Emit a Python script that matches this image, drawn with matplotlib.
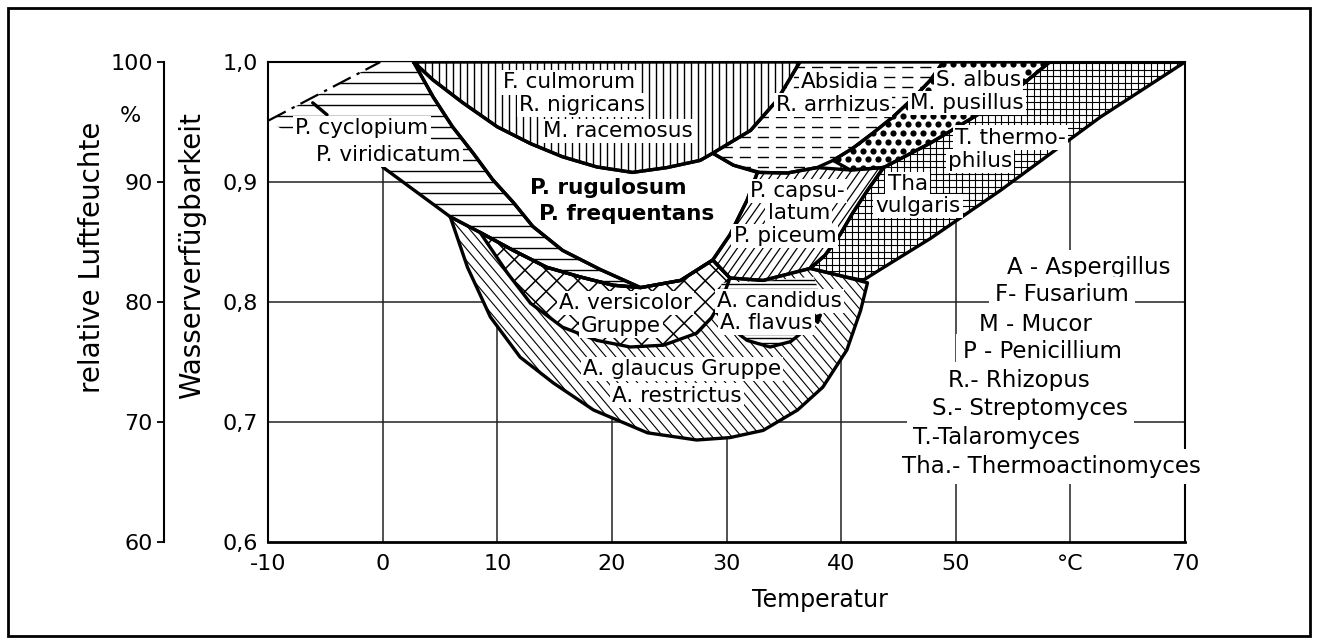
import matplotlib.pyplot as plt
import numpy as np
from matplotlib.collections import LineCollection
from matplotlib.patches import Polygon, Rectangle

# region outlines: temperature (°C) and water activity (aw)
cyclopium_T = [-10, -0.2, 2.7, 4.4, 6.1, 7.9, 9.6, 11.4, 13.1, 15.7, 19.0, 22.5,
               20.1, 17.2, 14.3, 11.4, 8.5, 5.9, 0.0, -7.2]
cyclopium_aw = [0.951, 1.0, 1.0, 0.971, 0.946, 0.924, 0.902, 0.883, 0.863, 0.843, 0.827, 0.812,
                0.814, 0.821, 0.829, 0.843, 0.858, 0.871, 0.9125, 0.935]
cyclopium_tick_T = [-6.1, -4.85]
cyclopium_tick_aw = [0.966, 0.956]

culmorum_T = [2.7, 36.4, 34.4, 32.1, 28.8, 27.7, 24.8, 21.8, 18.7, 15.7, 12.9, 10.0, 7.0, 4.4]
culmorum_aw = [1.0, 1.0, 0.968, 0.943, 0.924, 0.918, 0.912, 0.908, 0.9125, 0.921, 0.932, 0.946, 0.966, 0.985]

rugulosum_T = [2.7, 4.4, 7.0, 10.0, 12.9, 15.7, 18.7, 21.8, 24.8, 27.7, 28.8, 30.6, 32.7, 31.8,
               30.3, 28.8, 26.0, 22.5, 19.0, 15.7, 13.1, 11.4, 9.6, 7.9, 6.1, 4.4]
rugulosum_aw = [1.0, 0.985, 0.966, 0.946, 0.932, 0.921, 0.9125, 0.908, 0.912, 0.918, 0.924, 0.914, 0.908, 0.885,
                0.856, 0.835, 0.818, 0.812, 0.827, 0.843, 0.863, 0.883, 0.902, 0.924, 0.946, 0.971]

absidia_T = [36.4, 48.9, 47.8, 46.3, 44.5, 42.8, 41.0, 39.3, 37.9, 35.3, 32.9, 30.6, 28.8, 32.1, 34.4]
absidia_aw = [1.0, 1.0, 0.985, 0.970, 0.954, 0.941, 0.928, 0.918, 0.912, 0.9075, 0.908, 0.914, 0.924, 0.943, 0.968]

albus_T = [48.9, 58.2, 55.4, 51.9, 47.8, 43.7, 40.8, 39.3, 41.0, 42.8, 44.5, 46.3, 47.8]
albus_aw = [1.0, 1.0, 0.978, 0.956, 0.9325, 0.912, 0.910, 0.918, 0.928, 0.941, 0.954, 0.970, 0.985]

thermo_T = [58.2, 70, 62.6, 53.9, 47.8, 43.4, 41.9, 39.9, 37.3, 38.6, 39.9, 41.0, 42.3, 43.7, 47.8, 51.9, 55.4]
thermo_aw = [1.0, 1.0, 0.954, 0.893, 0.853, 0.827, 0.818, 0.822, 0.828, 0.839, 0.856, 0.874, 0.893, 0.912,
             0.9325, 0.956, 0.978]

capsulatum_T = [32.7, 35.3, 37.9, 40.8, 43.7, 42.3, 41.0, 39.9, 38.6, 37.3, 33.2, 30.3, 28.8, 30.3, 31.8]
capsulatum_aw = [0.908, 0.9075, 0.912, 0.910, 0.912, 0.893, 0.874, 0.856, 0.839, 0.828, 0.818, 0.820,
                 0.835, 0.856, 0.885]

glaucus_T = [5.9, 8.5, 11.4, 14.3, 17.2, 20.1, 22.5, 26.0, 28.8, 30.3, 33.2, 37.3, 39.9, 42.3,
             41.7, 40.5, 38.4, 36.2, 33.2, 30.3, 27.4, 23.1, 18.4, 14.9, 12.0, 9.4, 7.4]
glaucus_aw = [0.871, 0.858, 0.843, 0.829, 0.821, 0.814, 0.812, 0.818, 0.835, 0.820, 0.818, 0.828, 0.822, 0.816,
              0.793, 0.76, 0.729, 0.71, 0.693, 0.687, 0.685, 0.691, 0.71, 0.7325, 0.754, 0.7875, 0.829]

versicolor_T = [8.5, 11.4, 14.3, 17.2, 20.1, 22.5, 26.0, 28.8, 30.3, 29.6, 28.7, 27.4, 24.5, 21.6,
                18.7, 15.7, 12.9, 10.9]
versicolor_aw = [0.858, 0.843, 0.829, 0.821, 0.814, 0.812, 0.818, 0.835, 0.820, 0.802, 0.787, 0.774, 0.764,
                 0.7625, 0.768, 0.779, 0.799, 0.824]

candidus_T = [29.6, 33.2, 37.6, 38.2, 37.7, 36.9, 35.6, 33.8, 31.8, 30.3, 29.1, 29.3]
candidus_aw = [0.816, 0.8175, 0.821, 0.806, 0.789, 0.777, 0.767, 0.7625, 0.768, 0.779, 0.792, 0.806]
candidus_arrow = (38.4, 0.791)

x_ticks = [-10, 0, 10, 20, 30, 40, 50, 60, 70]
x_labels = ["-10", "0", "10", "20", "30", "40", "50", "°C", "70"]
y_ticks = [0.6, 0.7, 0.8, 0.9, 1.0]
y_labels = ["0,6", "0,7", "0,8", "0,9", "1,0"]
rh_ticks = [60, 70, 80, 90, 100]

region_labels = [
    ("P. cyclopium", -1.8, 0.945, "normal"),
    ("P. viridicatum", 0.5, 0.9225, "normal"),
    ("F. culmorum", 16.3, 0.983, "normal"),
    ("R. nigricans", 17.4, 0.964, "normal"),
    ("M. racemosus", 20.5, 0.9425, "normal"),
    ("P. rugulosum", 19.7, 0.895, "bold"),
    ("P. frequentans", 21.3, 0.873, "bold"),
    ("Absidia", 39.9, 0.983, "normal"),
    ("R. arrhizus", 39.3, 0.964, "normal"),
    ("S. albus", 52.0, 0.985, "normal"),
    ("M. pusillus", 51.0, 0.966, "normal"),
    ("T. thermo-", 54.8, 0.937, "normal"),
    ("philus", 52.1, 0.9175, "normal"),
    ("Tha", 45.8, 0.898, "normal"),
    ("vulgaris", 46.7, 0.880, "normal"),
    ("P. capsu-", 36.2, 0.8925, "normal"),
    ("latum", 36.3, 0.874, "normal"),
    ("P. piceum", 35.1, 0.855, "normal"),
    ("A. versicolor", 21.2, 0.799, "normal"),
    ("Gruppe", 20.8, 0.780, "normal"),
    ("A. glaucus Gruppe", 26.1, 0.744, "normal"),
    ("A. restrictus", 25.7, 0.722, "normal"),
    ("A. candidus", 34.6, 0.801, "normal"),
    ("A. flavus", 33.5, 0.7825, "normal"),
]

key_lines = [
    ("A - Aspergillus", 54.5, 0.829),
    ("F- Fusarium", 53.4, 0.806),
    ("M - Mucor", 52.0, 0.781),
    ("P - Penicillium", 50.6, 0.759),
    ("R.- Rhizopus", 49.3, 0.735),
    ("S.- Streptomyces", 47.9, 0.711),
    ("T.-Talaromyces", 46.3, 0.687),
    ("Tha.- Thermoactinomyces", 45.3, 0.663),
]

W, H = 1318, 643
AX_L, AX_R, AX_T, AX_B = 268, 1185, 62, 542
AX_W, AX_H = AX_R - AX_L, AX_B - AX_T

fig = plt.figure(figsize=(W / 100, H / 100), dpi=100)
ax = fig.add_axes([AX_L / W, 1 - AX_B / H, AX_W / W, AX_H / H])
ax.set_xlim(-10, 70)
ax.set_ylim(0.6, 1.0)
ax.autoscale(False)


def region(T, aw, z):
    patch = Polygon(np.column_stack([T, aw]), closed=True, facecolor="white",
                    edgecolor="none", zorder=z)
    ax.add_patch(patch)
    return patch


def hatch_lines(patch, angle, step, lw, z, **kw):
    # parallel lines, angle and spacing given in screen pixels
    th = np.deg2rad(angle)
    d = np.array([np.cos(th), np.sin(th)])
    nrm = np.array([-d[1], d[0]])
    half = np.hypot(AX_W, AX_H)
    centre = np.array([AX_W, AX_H]) / 2
    segs = []
    for off in np.arange(-half, half, step):
        c = centre + nrm * off
        a, b = c - d * half, c + d * half
        segs.append([(a[0] / AX_W, a[1] / AX_H), (b[0] / AX_W, b[1] / AX_H)])
    lc = LineCollection(segs, colors="black", linewidths=lw, transform=ax.transAxes,
                        zorder=z, **kw)
    lc.set_clip_path(patch)
    ax.add_collection(lc, autolim=False)


def hatch_dots(patch, step, size, z):
    pts = []
    for j, y in enumerate(np.arange(0, AX_H, step * 0.87)):
        for x in np.arange((j % 2) * step / 2, AX_W, step):
            pts.append((x / AX_W, y / AX_H))
    pts = np.array(pts)
    sc = ax.scatter(pts[:, 0], pts[:, 1], s=size, c="black", linewidths=0,
                    transform=ax.transAxes, zorder=z)
    sc.set_clip_path(patch)


def outline(T, aw, closed=True, lw=2.4):
    T, aw = list(T), list(aw)
    if closed:
        T, aw = T + T[:1], aw + aw[:1]
    ax.plot(T, aw, color="black", lw=lw, zorder=10, solid_joinstyle="round",
            solid_capstyle="round")


# grid behind everything
ax.vlines(range(0, 70, 10), 0.6, 1.0, color="#222222", lw=1.1, zorder=1)
ax.hlines([0.7, 0.8, 0.9], -10, 70, color="#222222", lw=1.1, zorder=1)

p = region(glaucus_T, glaucus_aw, 2.0)
hatch_lines(p, -50, 7.5, 0.8, 2.05)
p = region(versicolor_T, versicolor_aw, 2.1)
hatch_lines(p, 45, 15, 1.1, 2.15)
hatch_lines(p, -45, 15, 1.1, 2.15)
p = region(candidus_T, candidus_aw, 2.2)
hatch_lines(p, 0, 4.5, 1.0, 2.25)
p = region(capsulatum_T, capsulatum_aw, 2.3)
hatch_lines(p, 55, 7, 0.9, 2.35)
p = region(thermo_T, thermo_aw, 2.4)
hatch_lines(p, 0, 6.5, 0.8, 2.45)
hatch_lines(p, 90, 6.5, 0.8, 2.45)
region(rugulosum_T, rugulosum_aw, 2.5)
p = region(cyclopium_T, cyclopium_aw, 2.6)
hatch_lines(p, 0, 11, 1.0, 2.65)
p = region(culmorum_T, culmorum_aw, 2.7)
hatch_lines(p, 90, 7, 1.0, 2.75)
p = region(absidia_T, absidia_aw, 2.8)
hatch_lines(p, 0, 10, 1.0, 2.85, linestyles=[(0, (8, 5))])
p = region(albus_T, albus_aw, 2.9)
hatch_dots(p, 10, 20, 2.95)

# boundaries
for T, aw in [(glaucus_T, glaucus_aw), (versicolor_T, versicolor_aw),
              (capsulatum_T, capsulatum_aw), (thermo_T, thermo_aw),
              (rugulosum_T, rugulosum_aw), (culmorum_T, culmorum_aw),
              (absidia_T, absidia_aw), (albus_T, albus_aw)]:
    outline(T, aw)
outline(cyclopium_T[2:19], cyclopium_aw[2:19], closed=False)
outline(cyclopium_tick_T, cyclopium_tick_aw, closed=False)
ax.plot(cyclopium_T[:2], cyclopium_aw[:2], color="black", lw=1.6, zorder=10,
        linestyle=(0, (9, 3, 1.5, 3)))
outline(candidus_T[5:11], candidus_aw[5:11], closed=False)
ax.annotate("", xy=candidus_arrow, xytext=(candidus_T[5], candidus_aw[5]), zorder=10,
            arrowprops=dict(arrowstyle="-|>,head_length=0.5,head_width=0.25",
                            color="black", lw=2.2, shrinkA=0, shrinkB=0))

for text, t, a, weight in region_labels:
    ax.text(t, a, text, ha="center", va="center", fontsize=15.5, fontweight=weight,
            zorder=20, bbox=dict(facecolor="white", edgecolor="none", pad=1.5))

for text, t, a in key_lines:
    ax.text(t, a, text, ha="left", va="center", fontsize=16.5, zorder=20, clip_on=False,
            bbox=dict(facecolor="white", edgecolor="none", pad=4.5))

ax.set_xticks(x_ticks)
ax.set_xticklabels(x_labels)
ax.set_yticks(y_ticks)
ax.set_yticklabels(y_labels)
ax.tick_params(axis="x", length=0, pad=9, labelsize=16)
ax.tick_params(axis="y", length=0, pad=7, labelsize=16)
for s in ax.spines.values():
    s.set_linewidth(1.5)
ax.spines["bottom"].set_linewidth(2.0)

# relative humidity scale on the far left
ax2 = fig.add_axes([164 / W, 1 - AX_B / H, 0.0001, AX_H / H])
ax2.set_ylim(60, 100)
ax2.set_yticks(rh_ticks)
ax2.set_xticks([])
ax2.tick_params(axis="y", length=5, width=1.3, pad=3, labelsize=16)
for s in ["top", "right", "bottom"]:
    ax2.spines[s].set_visible(False)
ax2.spines["left"].set_linewidth(1.5)
ax2.patch.set_visible(False)

fig.text(130 / W, 1 - 116 / H, "%", ha="center", va="center", fontsize=16)
fig.text(92 / W, 1 - 257 / H, "relative Luftfeuchte", rotation=90, ha="center",
         va="center", fontsize=20)
fig.text(192 / W, 1 - 256 / H, "Wasserverfügbarkeit", rotation=90, ha="center",
         va="center", fontsize=20)
fig.text(820 / W, 1 - 600 / H, "Temperatur", ha="center", va="center", fontsize=17)

fig.patches.append(Rectangle((8 / W, 7 / H), 1302 / W, 628 / H, transform=fig.transFigure,
                             fill=False, edgecolor="black", lw=2))

fig.savefig("out.png", dpi=100)
